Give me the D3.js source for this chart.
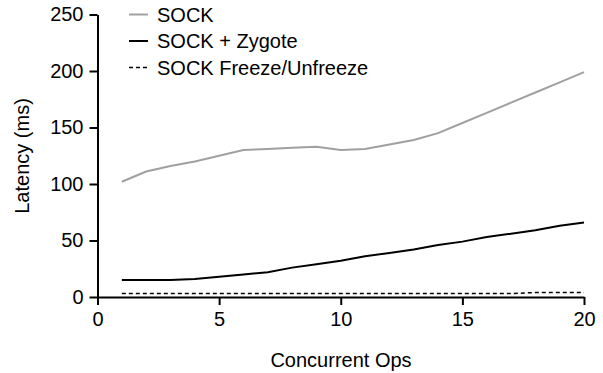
<!DOCTYPE html>
<html>
<head>
<meta charset="utf-8">
<script src="https://cdn.jsdelivr.net/npm/d3@7"></script>
<style>
  body { margin: 0; background: #fff; }
  text { font-family: "Liberation Sans", Arial, sans-serif; }
</style>
</head>
<body>
<script>
const w = 603;
const h = 373;

const ops = [1, 2, 3, 4, 5, 6, 7, 8, 9, 10, 11, 12, 13, 14, 15, 16, 17, 18, 19, 20];
const sock = [102, 111, 116, 120, 125, 130, 131, 132, 133, 130, 131, 135, 139, 145, 154, 163, 172, 181, 190, 199];
const zygote = [15, 15, 15, 16, 18, 20, 22, 26, 29, 32, 36, 39, 42, 46, 49, 53, 56, 59, 63, 66];
const freeze = [3, 3, 3, 3, 3, 3, 3, 3, 3, 3, 3, 3, 3, 3, 3, 3, 3, 4, 4, 4];
const xTicks = [0, 5, 10, 15, 20];
const yTicks = [0, 50, 100, 150, 200, 250];

const series = [
  { name: "SOCK", values: sock, color: "#a0a0a0", dash: null },
  { name: "SOCK + Zygote", values: zygote, color: "#000", dash: null },
  { name: "SOCK Freeze/Unfreeze", values: freeze, color: "#000", dash: "4,3" }
];

const fs = 20;

const svg = d3.select("body").append("svg").attr("width", w).attr("height", h);

const xScale = d3.scaleLinear().domain([0, 20]).range([97.5, 584]);
const yScale = d3.scaleLinear().domain([0, 250]).range([297, 14.5]);

// axes
const xAxis = d3.axisBottom(xScale).tickValues(xTicks).tickSize(8).tickPadding(7).tickSizeOuter(0);
const yAxis = d3.axisLeft(yScale).tickValues(yTicks).tickSize(8).tickPadding(6).tickSizeOuter(0);

const gx = svg.append("g").attr("transform", "translate(0," + yScale(0) + ")").call(xAxis);
const gy = svg.append("g").attr("transform", "translate(" + xScale(0) + ",0)").call(yAxis);

[gx, gy].forEach(g => {
  g.select(".domain").attr("stroke", "#000").attr("stroke-width", 2);
  g.selectAll(".tick line").attr("stroke", "#000").attr("stroke-width", 2);
  g.selectAll(".tick text").attr("font-size", fs).attr("fill", "#000")
    .attr("font-family", "Liberation Sans, Arial, sans-serif");
});

// lines
const line = d3.line()
  .x((d, i) => xScale(ops[i]))
  .y(d => yScale(d));

series.forEach(s => {
  svg.append("path")
    .datum(s.values)
    .attr("fill", "none")
    .attr("stroke", s.color)
    .attr("stroke-width", s.dash ? 1.5 : 2)
    .attr("stroke-dasharray", s.dash)
    .attr("d", line);
});

// legend
const legend = svg.append("g").attr("transform", "translate(129,14.5)");
series.forEach((s, i) => {
  const row = legend.append("g").attr("transform", "translate(0," + i * 26.5 + ")");
  row.append("line")
    .attr("x1", 0).attr("x2", 19)
    .attr("stroke", s.color)
    .attr("stroke-width", s.dash ? 1.5 : 2)
    .attr("stroke-dasharray", s.dash);
  row.append("text")
    .attr("x", 28).attr("y", 7)
    .attr("font-size", fs)
    .text(s.name);
});

// axis titles
svg.append("text")
  .attr("x", 341).attr("y", 367)
  .attr("text-anchor", "middle")
  .attr("font-size", fs)
  .text("Concurrent Ops");

svg.append("text")
  .attr("transform", "translate(29,156) rotate(-90)")
  .attr("text-anchor", "middle")
  .attr("font-size", fs)
  .text("Latency (ms)");
</script>
</body>
</html>
